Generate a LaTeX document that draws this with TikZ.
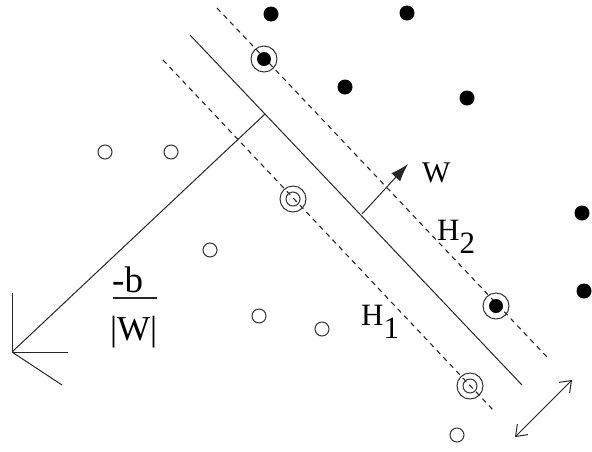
\documentclass[tikz,border=0pt]{standalone}
\usepackage{fontspec}
\setmainfont{Liberation Serif}
\usetikzlibrary{arrows.meta}
\begin{document}
\begin{tikzpicture}[x=1pt,y=-1pt,
  ln/.style={draw=black!85,line width=1pt},
  dsh/.style={draw=black!85,line width=1.1pt,dash pattern=on 5pt off 4.5pt},
  fdot/.style={circle,fill=black,inner sep=0pt,minimum size=15pt},
  odot/.style={circle,draw=black!80,line width=1pt,inner sep=0pt,minimum size=14pt},
  ring/.style={circle,draw=black!80,line width=1pt,inner sep=0pt,minimum size=26pt},
  lbl/.style={inner sep=0pt,font=\fontsize{31}{31}\selectfont}]
\useasboundingbox (0,0) rectangle (592,451);
% hyperplanes
\coordinate (s1) at (190,35);  \coordinate (s2) at (522,385);
\coordinate (u1) at (217,8);   \coordinate (u2) at (547,357);
\coordinate (l1) at (163,60);  \coordinate (l2) at (495,412);
\draw[ln] (s1) -- (s2);
\draw[dsh] (u1) -- (u2);
\draw[dsh] (l1) -- (l2);
% perpendicular distance line with arrow stub
\coordinate (pf) at (265,114);
\coordinate (pe) at (12,352);
\coordinate (pa) at (12,293);
\coordinate (pb) at (68,352);
\coordinate (pc) at (62,385);
\draw[ln] (pf) -- (pe);
\draw[ln] (pe) -- (pa);
\draw[ln] (pe) -- (pb);
\draw[ln] (pe) -- (pc);
% normal vector w
\coordinate (w0) at (362,214);
\coordinate (w1) at (408,164);
\draw[ln,-{Latex[length=18pt,width=12pt]}] (w0) -- (w1);
% double arrow
\coordinate (d0) at (515,437);
\coordinate (d1) at (572,380);
\draw[ln,{Straight Barb[length=10pt,width=15pt]}-{Straight Barb[length=10pt,width=15pt]}] (d0) -- (d1);
% filled points
\node[fdot] (f1) at (271,14) {};
\node[fdot] (f2) at (407,13) {};
\node[fdot] (f3) at (345,87) {};
\node[fdot] (f4) at (467,98) {};
\node[fdot] (f5) at (582,213) {};
\node[fdot] (f6) at (584,291) {};
\node[fdot,minimum size=14pt] (fs1) at (264,59) {};
\node[ring] (fr1) at (264,59) {};
\node[fdot,minimum size=14pt] (fs2) at (496,306) {};
\node[ring] (fr2) at (496,306) {};
% open points
\node[odot] (o1) at (105,152) {};
\node[odot] (o2) at (171,152) {};
\node[odot] (o3) at (210,250) {};
\node[odot] (o4) at (259,316) {};
\node[odot] (o5) at (322,329) {};
\node[odot] (o6) at (457,435) {};
\node[odot] (os1) at (293,199) {};
\node[ring] (or1) at (293,199) {};
\node[odot] (os2) at (470,386) {};
\node[ring] (or2) at (470,386) {};
% labels
\node[inner sep=0pt,anchor=base west,font=\fontsize{30}{30}\selectfont] (wl) at (422,182) {W};
\node[lbl,anchor=base west] (h2) at (437,240) {H\raisebox{-13pt}{2}};
\node[lbl,anchor=base west] (h1) at (361,325) {H\raisebox{-13pt}{1}};
\node[inner sep=0pt,anchor=base west,font=\fontsize{37}{37}\selectfont] (num) at (112,292) {-b};
\coordinate (fb0) at (113,298);
\coordinate (fb1) at (157,298);
\draw[black!85,line width=1.8pt] (fb0) -- (fb1);
\node[inner sep=0pt,anchor=base west,font=\fontsize{35}{35}\selectfont] (den) at (110,340) {|W|};
\end{tikzpicture}
\end{document}
